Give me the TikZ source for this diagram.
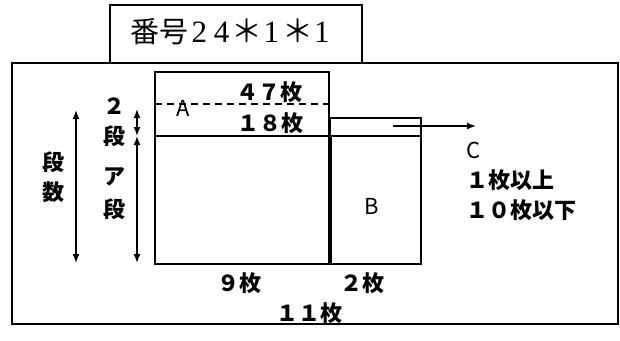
\documentclass[tikz,border=0pt]{standalone}
\usepackage{fontspec}
\setmainfont{Liberation Serif}
\newfontfamily\cjk{Noto Sans CJK JP}
\usetikzlibrary{arrows.meta}
\tikzset{
  framebox/.style={draw, line width=1.2pt, inner sep=0pt},
  partbox/.style={draw, line width=2pt, inner sep=0pt},
  partline/.style={line width=2pt},
  lbl/.style={font=\cjk\bfseries\fontsize{22}{30}\selectfont, inner sep=0pt, align=center},
  letter/.style={font=\cjk\fontsize{22}{30}\selectfont, inner sep=0pt},
  dimarr/.style={{Latex[length=9pt,width=7pt]}-{Latex[length=9pt,width=7pt]}, line width=1.4pt},
  outarr/.style={-{Latex[length=9pt,width=7pt]}, line width=1.4pt}
}

\begin{document}
\begin{tikzpicture}[x=1pt, y=-1pt]
  \useasboundingbox (0,0) rectangle (620,340);
  % frame and title
  \node[framebox, minimum width=606pt, minimum height=261pt] (outer) at (315,193.5) {};
  \node[framebox, fill=white, minimum width=252pt, minimum height=58pt] (title) at (236,34) {};
  \node[inner sep=0pt, font=\fontsize{31}{32}\selectfont] (titletext) at (230,32)
    {{\cjk\fontsize{29}{30}\selectfont 番号}\kern3pt 2\kern7pt 4\kern2pt{\cjk ＊}\kern1pt 1\kern3pt{\cjk ＊}\kern1pt 1};

  % blocks
  \node[partbox, minimum width=174pt, minimum height=192pt] (blkA) at (242,168) {};
  \node[partbox, minimum width=90.5pt, minimum height=128pt] (blkB) at (375.75,200) {};
  \node[framebox, minimum width=90.5pt, minimum height=18pt] (blkC) at (375.75,127) {};
  \draw[partline] (155,136) -- (421,136);
  \draw[partline, line width=1.6pt, dash pattern=on 7pt off 5pt] (155,104) -- (329,104);

  % C arrow
  \coordinate (cstart) at (393,126);
  \coordinate (cend) at (476,126);
  \draw[outarr] (cstart) -- (cend);

  % height arrows
  \coordinate (dtop) at (76,110);
  \coordinate (dbot) at (76,263);
  \coordinate (ttop) at (137,109);
  \coordinate (tmid) at (137,136);
  \coordinate (tbot) at (137,263);
  \draw[dimarr] (dtop) -- (dbot);
  \draw[dimarr] (ttop) -- (tmid);
  \draw[dimarr] (tmid) -- (tbot);

  % labels
  \node[lbl] (lbldansu) at (53,177) {段\\数};
  \node[lbl] (lbltwodan) at (114,122) {２\\段};
  \node[lbl, font=\cjk\bfseries\fontsize{22}{33}\selectfont] (lbladan) at (114,193.5) {ア\\段};
  \node[letter] (lblA) at (183,108) {A};
  \node[lbl] (lbltop) at (269,92) {４７枚};
  \node[lbl] (lblmid) at (270,123) {１８枚};
  \node[letter] (lblB) at (372,206) {B};
  \node[lbl, anchor=west, align=left] (lblC) at (466,181) {{\mdseries C}\\１枚以上\\１０枚以下};
  \node[lbl] (lblnine) at (239,283) {９枚};
  \node[lbl] (lbltwo) at (362,283) {２枚};
  \node[lbl] (lbleleven) at (309,313) {１１枚};
\end{tikzpicture}
\end{document}
